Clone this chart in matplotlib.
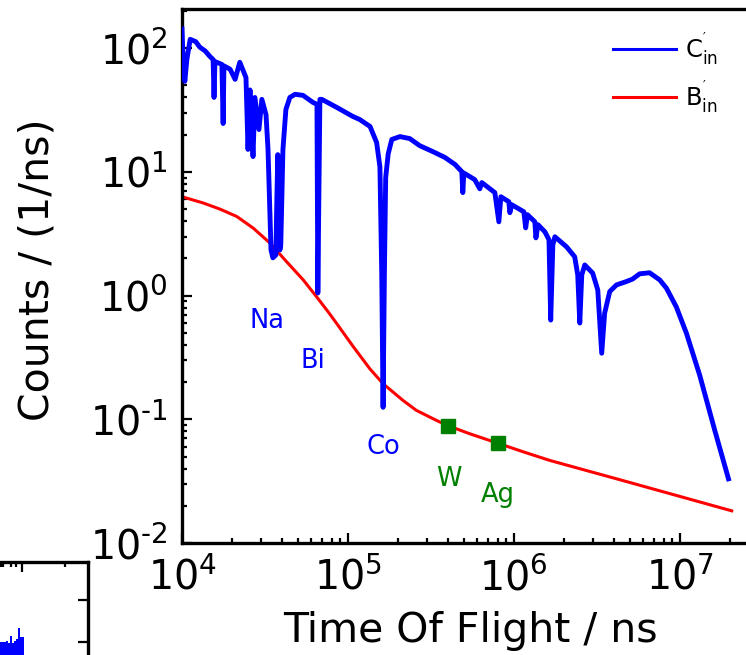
import matplotlib
matplotlib.use("Agg")
import matplotlib.pyplot as plt
from matplotlib.ticker import LogLocator, NullFormatter, FixedLocator, FixedFormatter

# ---------------- data ----------------
# blue curve C'_in, read segment by segment
blue_x_a = [1.00e4, 1.01e4, 1.04e4, 1.07e4, 1.12e4, 1.21e4, 1.28e4, 1.38e4, 1.47e4, 1.54e4,
            1.56e4, 1.58e4, 1.74e4, 1.77e4, 1.79e4, 1.95e4, 2.09e4, 2.23e4, 2.43e4, 2.50e4,
            2.57e4, 2.68e4, 2.75e4, 2.91e4, 3.03e4, 3.21e4, 3.30e4]
blue_y_a = [143, 98, 54, 81, 118, 113, 102, 95, 86, 81,
            40, 78, 74, 24.6, 72, 67.6, 56, 77, 58, 15.2,
            46, 13.3, 40, 22, 38.6, 29, 15.2]
blue_x_b = [3.44e4, 3.53e4, 3.68e4, 3.73e4, 3.78e4, 3.84e4, 3.89e4, 3.94e4, 4.06e4, 4.23e4,
            4.47e4, 4.80e4]
blue_y_b = [2.34, 2.02, 2.13, 5.96, 13.8, 5.96, 2.34, 2.57, 15.2, 32,
            40, 42.4]
blue_x_c = [5.36e4, 6.15e4, 6.51e4, 6.59e4, 6.78e4, 6.96e4, 8.58e4, 1.07e5, 1.18e5, 1.36e5,
            1.49e5, 1.56e5, 1.60e5, 1.63e5, 1.66e5, 1.69e5, 1.75e5, 1.84e5, 2.06e5]
blue_y_c = [41.6, 36.5, 35.2, 1.05, 38.6, 38.6, 33.2, 28.1, 26.5, 23.3,
            17.3, 11.0, 1.5, 0.125, 1.5, 9.0, 14.0, 18.3, 19.3]
blue_x_d = [2.36e5, 2.71e5, 3.25e5, 3.84e5, 4.42e5, 4.86e5, 4.93e5, 5.00e5, 5.82e5, 6.24e5,
            6.42e5, 7.69e5, 8.13e5, 8.36e5, 9.34e5, 9.47e5, 9.73e5, 1.15e6, 1.18e6, 1.21e6,
            1.34e6, 1.36e6, 1.40e6, 1.54e6, 1.63e6, 1.67e6, 1.72e6, 1.77e6, 2.08e6, 2.33e6,
            2.43e6, 2.50e6, 2.57e6, 2.68e6, 2.99e6, 3.21e6, 3.39e6]
blue_y_d = [18.6, 16.3, 14.6, 13.1, 11.5, 10.05, 6.8, 9.8, 8.66, 7.3,
            8.2, 6.8, 3.95, 6.3, 5.74, 4.68, 5.43, 4.76, 3.53, 4.51,
            3.95, 2.93, 3.74, 3.28, 2.83, 0.634, 2.57, 2.99, 2.48, 2.06,
            1.47, 0.60, 1.47, 1.77, 1.52, 1.11, 0.342]
blue_x_e = [3.53e6, 3.79e6, 4.16e6, 4.78e6, 5.20e6, 5.74e6, 6.59e6, 7.58e6, 8.32e6, 9.55e6,
            1.10e7, 1.32e7, 1.63e7, 1.97e7]
blue_y_e = [0.72, 1.08, 1.22, 1.30, 1.36, 1.50, 1.53, 1.34, 1.15, 0.81,
            0.494, 0.228, 0.081, 0.033]

blue_x = blue_x_a + blue_x_b + blue_x_c + blue_x_d + blue_x_e
blue_y = blue_y_a + blue_y_b + blue_y_c + blue_y_d + blue_y_e

# red curve B'_in
red_x = [1.0e4, 1.34e4, 1.69e4, 2.14e4, 2.69e4, 3.39e4, 4.27e4, 5.38e4, 6.47e4, 7.6e4,
         8.55e4, 1.08e5, 1.36e5, 1.63e5, 2.15e5, 2.59e5, 3.42e5, 3.99e5, 5.43e5, 8.04e5,
         1.14e6, 1.65e6, 4.35e6, 2.06e7]
red_y = [6.3, 5.61, 5.01, 4.36, 3.51, 2.66, 1.88, 1.34, 0.98, 0.74,
         0.596, 0.385, 0.255, 0.194, 0.142, 0.118, 0.098, 0.089, 0.0764, 0.064,
         0.0546, 0.0465, 0.0325, 0.0182]

marker_x = [4.0e5, 8.0e5]
marker_y = [0.089, 0.064]

blue_labels = ["Na", "Bi", "Co"]
blue_label_x = [3.25e4, 6.15e4, 1.63e5]
blue_label_y = [0.546, 0.259, 0.0528]
green_labels = ["W", "Ag"]
green_label_x = [4.06e5, 8.0e5]
green_label_y = [0.0291, 0.0216]

legend_labels = [r"$\mathregular{C_{in}^{'}}$", r"$\mathregular{B_{in}^{'}}$"]

x_ticks = [1e4, 1e5, 1e6, 1e7]
x_tick_labels = [r"$\mathregular{10^{4}}$", r"$\mathregular{10^{5}}$",
                 r"$\mathregular{10^{6}}$", r"$\mathregular{10^{7}}$"]
y_ticks = [1e-2, 1e-1, 1e0, 1e1, 1e2]
y_tick_labels = [r"$\mathregular{10^{\text{-}2}}$", r"$\mathregular{10^{\text{-}1}}$",
                 r"$\mathregular{10^{0}}$", r"$\mathregular{10^{1}}$",
                 r"$\mathregular{10^{2}}$"]

# fragment of a neighbouring panel (bottom-left corner)
inset_channel = [61, 63, 65, 67, 69, 71, 73, 75, 77, 79, 81, 83]
inset_counts = [58, 58, 58, 59, 57, 64, 57, 59, 61, 72, 63, 63]

# ---------------- style ----------------
plt.rcParams["font.family"] = ["DejaVu Sans"]
plt.rcParams["mathtext.fontset"] = "dejavusans"

W, H = 746, 655
fig = plt.figure(figsize=(W / 100, H / 100), dpi=100)

def px_rect(l, t, r, b):
    return [l / W, 1 - b / H, (r - l) / W, (b - t) / H]

ax = fig.add_axes(px_rect(182, 9, 746, 543))
ax.set_xscale("log")
ax.set_yscale("log")
ax.set_xlim(1e4, 10 ** 7.4)
ax.set_ylim(1e-2, 10 ** 2.317)

ax.plot(blue_x, blue_y, color="#0000ff", lw=3.5, label=legend_labels[0], zorder=3)
ax.plot(red_x, red_y, color="#ff0000", lw=2.2, label=legend_labels[1], zorder=2)
ax.plot(marker_x, marker_y, ls="none", marker="s", ms=9.5, color="#008000", zorder=4)

for t, x, y in zip(blue_labels, blue_label_x, blue_label_y):
    ax.text(x, y, t, color="#0000ff", fontsize=18.5, ha="center", va="baseline")
for t, x, y in zip(green_labels, green_label_x, green_label_y):
    ax.text(x, y, t, color="#008000", fontsize=18.5, ha="center", va="baseline")

ax.xaxis.set_major_locator(FixedLocator(x_ticks))
ax.xaxis.set_major_formatter(FixedFormatter(x_tick_labels))
ax.yaxis.set_major_locator(FixedLocator(y_ticks))
ax.yaxis.set_major_formatter(FixedFormatter(y_tick_labels))
ax.xaxis.set_minor_locator(LogLocator(base=10, subs=range(2, 10), numticks=20))
ax.yaxis.set_minor_locator(LogLocator(base=10, subs=range(2, 10), numticks=20))
ax.xaxis.set_minor_formatter(NullFormatter())
ax.yaxis.set_minor_formatter(NullFormatter())

ax.tick_params(which="both", direction="in", top=False, right=False,
               labelsize=28.5, width=1.6)
ax.tick_params(which="major", length=7.5)
ax.tick_params(which="minor", length=3.8)
ax.tick_params(axis="x", which="major", pad=11)
ax.tick_params(axis="y", which="major", pad=10)

for s in ["left", "bottom", "top"]:
    ax.spines[s].set_linewidth(2.4)
ax.spines["right"].set_visible(False)

ax.set_xlabel("Time Of Flight / ns", fontsize=29.5, va="center")
ax.xaxis.set_label_coords(0.511, -0.165)
ax.set_ylabel("Counts / (1/ns)", fontsize=29.5, va="center")
ax.yaxis.set_label_coords(-0.257, 0.511)

leg = ax.legend(loc="upper left", bbox_to_anchor=(613 / W, 1 - 30 / H),
                bbox_transform=fig.transFigure, frameon=False, fontsize=17.5,
                handlelength=2.6, handletextpad=0.35, borderpad=0,
                borderaxespad=0, labelspacing=0.45)
for line in leg.get_lines():
    line.set_linewidth(2.2)

# ---------------- fragment of adjacent panel ----------------
ax2 = fig.add_axes([-60 / W, -45 / H, 148 / W, 138 / H])
ax2.set_xlim(0, 148)
ax2.set_ylim(0, 138)
ax2.bar(inset_channel, inset_counts, width=2.0, color="#0000ff", align="center")
ax2.set_xticks([82])
ax2.set_xticks([61, 63, 71, 76, 125], minor=True)
ax2.set_yticks([58, 100])
ax2.tick_params(which="both", direction="in", top=True, bottom=False, right=True,
                left=False, labeltop=False, labelbottom=False, labelleft=False,
                labelright=False, width=1.6)
ax2.tick_params(which="major", length=7.5)
ax2.tick_params(which="minor", length=3.8)
for s in ax2.spines.values():
    s.set_linewidth(2.4)

fig.savefig("out.png", dpi=100)
